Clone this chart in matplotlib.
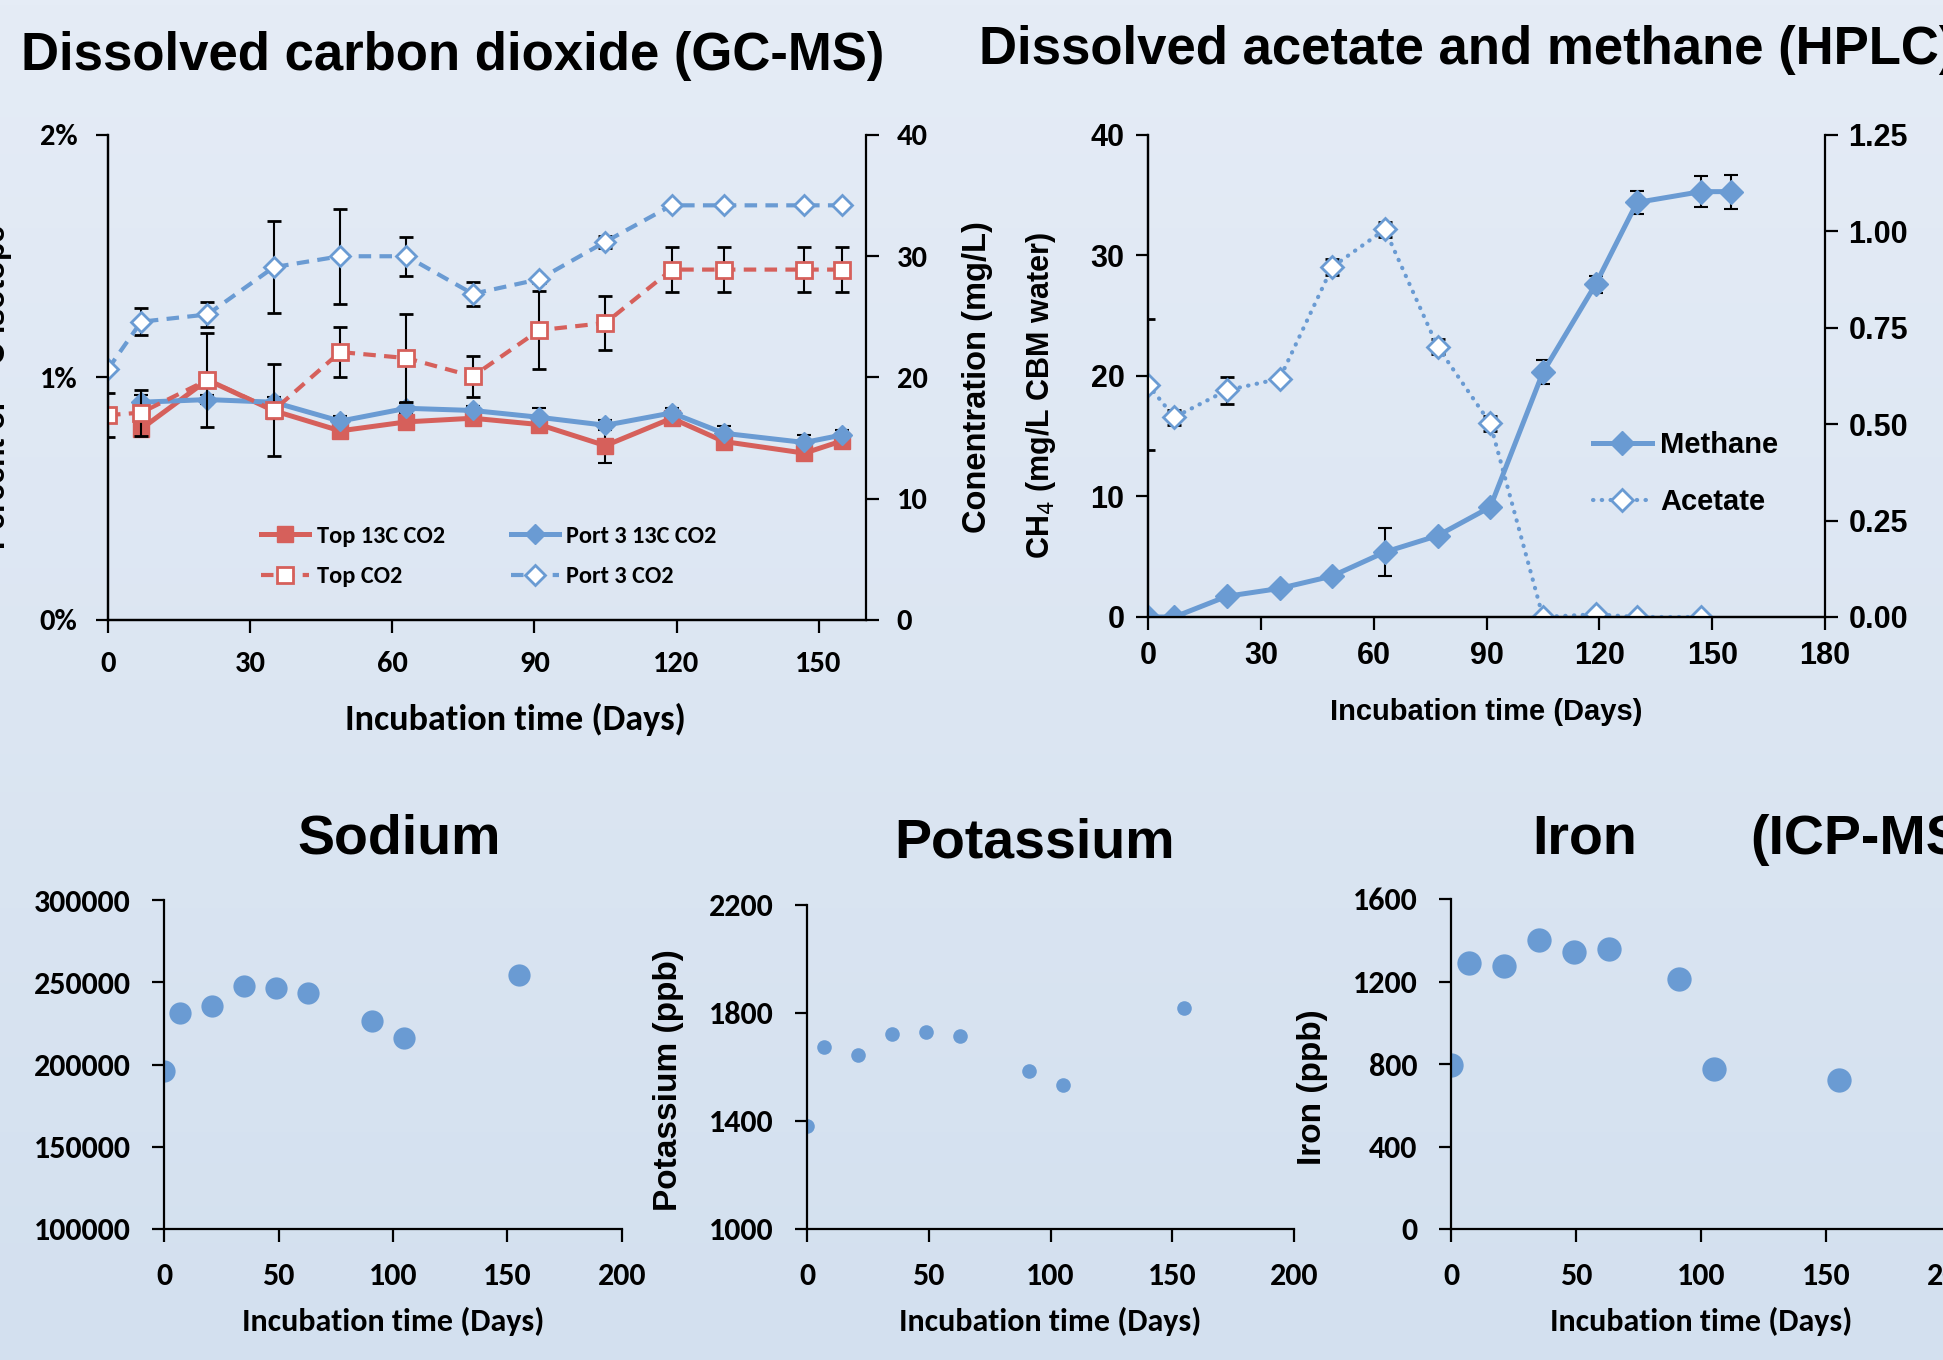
import numpy as np
import matplotlib
matplotlib.use('Agg')
import matplotlib.pyplot as plt
from matplotlib import font_manager
from matplotlib.colors import LinearSegmentedColormap

# pick fonts that exist in the sandbox
names = {f.name for f in font_manager.fontManager.ttflist}
def pick(*cands):
    for c in cands:
        if c in names:
            return c
    return 'DejaVu Sans'
ARIAL = pick('Liberation Sans', 'Arial')
NARROW = pick('Liberation Sans Narrow', 'Liberation Sans')
CALIBRI = pick('Carlito', 'Lato', 'Open Sans')

# ---- data: dissolved CO2 (GC-MS) ----
days = [0, 7, 21, 35, 49, 63, 77, 91, 105, 119, 130, 147, 155]
days_13c = days[1:]
top_13c = [0.788, 0.99, 0.863, 0.78, 0.817, 0.832, 0.806, 0.719, 0.832, 0.736, 0.688, 0.739]
top_13c_err = [0.03, 0.02, 0.02, 0.02, 0.02, 0.02, 0.02, 0.07, 0.02, 0.03, 0.02, 0.02]
port3_13c = [0.898, 0.909, 0.898, 0.82, 0.873, 0.864, 0.836, 0.803, 0.854, 0.77, 0.732, 0.763]
port3_13c_err = [0.03, 0.02, 0.02, 0.02, 0.02, 0.02, 0.037, 0.02, 0.02, 0.03, 0.03, 0.02]
top_co2 = [16.9, 17.1, 19.8, 17.3, 22.1, 21.6, 20.1, 23.9, 24.5, 28.9, 28.9, 28.9, 28.9]
top_co2_err = [1.8, 1.9, 3.9, 3.8, 2.1, 3.6, 1.7, 3.2, 2.2, 1.85, 1.85, 1.85, 1.85]
port3_co2 = [20.7, 24.6, 25.2, 29.1, 30.0, 30.0, 26.9, 28.1, 31.2, 34.2, 34.2, 34.2, 34.2]
port3_co2_err = [0, 1.1, 1.05, 3.8, 3.9, 1.6, 1.0, 0.3, 0.5, 0, 0, 0, 0]

# ---- data: acetate and methane (HPLC) ----
methane = [0, 0, 1.72, 2.37, 3.4, 5.39, 6.75, 9.12, 20.3, 27.6, 34.4, 35.3, 35.3]
methane_err = [0, 0, 0, 0, 0.35, 2.0, 0, 0, 1.0, 0.7, 0.95, 1.3, 1.4]
acetate_days = days[:12]
acetate = [0.602, 0.518, 0.588, 0.618, 0.908, 1.005, 0.701, 0.502, 0, 0.007, 0, 0]
acetate_err = [0.17, 0.02, 0.035, 0, 0.02, 0.02, 0.02, 0.02, 0, 0, 0, 0]

# ---- data: ICP-MS ----
icp_days = [0, 7, 21, 35, 49, 63, 91, 105, 155]
sodium = [196200, 231500, 235300, 247900, 246500, 243200, 226500, 216200, 254600]
potassium = [1380, 1675, 1643, 1724, 1731, 1716, 1586, 1534, 1818]
iron = [796, 1291, 1273, 1399, 1345, 1357, 1210, 777, 724]

RED = '#D6605B'
BLUE = '#6A9BD3'
W, H = 1943, 1360

fig = plt.figure(figsize=(W / 100, H / 100), dpi=100)

# background gradient
bg = fig.add_axes([0, 0, 1, 1], zorder=-10)
grad = np.linspace(0, 1, 256).reshape(-1, 1)
cm = LinearSegmentedColormap.from_list('bg', ['#E5ECF6', '#D3E0EF'])
bg.imshow(grad, aspect='auto', cmap=cm, extent=[0, 1, 0, 1], origin='upper')
bg.axis('off')

def box(l, t, r, b):
    return [l / W, 1 - b / H, (r - l) / W, (b - t) / H]

def style(ax, font, size, right=False, pad=8):
    ax.patch.set_alpha(0)
    ax.spines['top'].set_visible(False)
    if not right:
        ax.spines['right'].set_visible(False)
    for s in ax.spines.values():
        s.set_linewidth(1.6)
    ax.tick_params(direction='out', length=9, width=1.6, pad=pad)
    for lab in ax.get_xticklabels() + ax.get_yticklabels():
        lab.set_fontfamily(font)
        lab.set_fontweight('bold')
        lab.set_fontsize(size)

ebkw = dict(ecolor='black', elinewidth=1.5, capsize=5, capthick=1.5)

# ===== panel 1 =====
ax1 = fig.add_axes(box(108, 135, 866, 620))
ax1.set_xlim(0, 160)
ax1.set_ylim(0, 2)
ax1.set_xticks([0, 30, 60, 90, 120, 150])
ax1.set_yticks([0, 1, 2])
ax1.set_yticklabels(['0%', '1%', '2%'])
e1 = ax1.errorbar(days_13c, top_13c, yerr=top_13c_err, color=RED, lw=3.6, marker='s',
                  ms=11, mfc=RED, mec=RED, **ebkw)
e2 = ax1.errorbar(days_13c, port3_13c, yerr=port3_13c_err, color=BLUE, lw=3.6, marker='D',
                  ms=10, mfc=BLUE, mec=BLUE, **ebkw)
style(ax1, CALIBRI, 22, pad=13)
ax1b = ax1.twinx()
ax1b.set_ylim(0, 40)
ax1b.set_yticks([0, 10, 20, 30, 40])
e3 = ax1b.errorbar(days, top_co2, yerr=top_co2_err, color=RED, lw=3, ls=(0, (3, 2)), marker='s',
                   ms=12, mfc='white', mec=RED, mew=2, **ebkw)
e4 = ax1b.errorbar(days, port3_co2, yerr=port3_co2_err, color=BLUE, lw=3, ls=(0, (3, 2)),
                   marker='D', ms=10, mfc='white', mec=BLUE, mew=2, **ebkw)
style(ax1b, CALIBRI, 22, right=True, pad=13)
ax1b.legend([e1[0], e3[0], e2[0], e4[0]], ['Top 13C CO2', 'Top CO2', 'Port 3 13C CO2', 'Port 3 CO2'],
            ncol=2, frameon=False, loc='upper left', bbox_to_anchor=(239 / W, 1 - 504 / H),
            bbox_transform=fig.transFigure, handlelength=2.0, handletextpad=0.3,
            columnspacing=2.7, labelspacing=0.8,
            prop=dict(family=CALIBRI, weight='bold', size=17.5))
ax1.set_xlabel('Incubation time (Days)', family=CALIBRI, weight='bold', size=26, va='center')
ax1.xaxis.set_label_coords(0.537, -0.206)
ax1b.set_ylabel('Conentration (mg/L)', family=ARIAL, weight='bold', size=23.5, labelpad=25)
fig.text(-4 / W, 1 - 387 / H, 'Percent of $^{13}$C isotope', rotation=90, ha='center',
         va='center', family=ARIAL, weight='bold', size=22)

# ===== panel 2 =====
ax2 = fig.add_axes(box(1148, 135, 1825, 617))
ax2.set_xlim(0, 180)
ax2.set_ylim(0, 40)
ax2.set_xticks(range(0, 181, 30))
ax2.set_yticks([0, 10, 20, 30, 40])
e5 = ax2.errorbar(days, methane, yerr=methane_err, color=BLUE, lw=3.6, marker='D', ms=12,
                  mfc=BLUE, mec=BLUE, zorder=3, **ebkw)
style(ax2, NARROW, 22)
ax2b = ax2.twinx()
ax2b.set_ylim(0, 1.25)
ax2b.set_yticks([0, 0.25, 0.5, 0.75, 1.0, 1.25])
ax2b.set_yticklabels(['0.00', '0.25', '0.50', '0.75', '1.00', '1.25'])
e6 = ax2b.errorbar(acetate_days, acetate, yerr=acetate_err, color=BLUE, lw=3, ls=(0, (0.1, 2)),
                   dash_capstyle='round', marker='D', ms=11, mfc='white', mec=BLUE, mew=2, **ebkw)
style(ax2b, NARROW, 22, right=True)
ax2b.legend([e5[0], e6[0]], ['Methane', 'Acetate'], frameon=False, loc='upper left',
            bbox_to_anchor=(1567 / W, 1 - 405 / H), bbox_transform=fig.transFigure,
            handlelength=2.0, handletextpad=0.3, labelspacing=1.0,
            prop=dict(family=NARROW, weight='bold', size=21))
ax2.set_xlabel('Incubation time (Days)', family=ARIAL, weight='bold', size=21, labelpad=20)
ax2.set_ylabel('CH$_4$ (mg/L CBM water)', family=ARIAL, weight='bold', size=22)
ax2.yaxis.set_label_coords(-0.133, 0.46)
ax2b.set_ylabel('Acetate (mM)', family=ARIAL, weight='bold', size=21, labelpad=40)

# ===== bottom ICP-MS panels =====
def icp_panel(rect, vals, ylim, yticks, ms, ylabel):
    ax = fig.add_axes(rect)
    ax.plot(icp_days, vals, 'o', color=BLUE, ms=ms, mec='none')
    ax.set_xlim(0, 200)
    ax.set_ylim(*ylim)
    ax.set_xticks([0, 50, 100, 150, 200])
    ax.set_yticks(yticks)
    style(ax, CALIBRI, 23, pad=15)
    ax.set_xlabel('Incubation time (Days)', family=CALIBRI, weight='bold', size=23, labelpad=12)
    ax.set_ylabel(ylabel, family=ARIAL, weight='bold', size=24, labelpad=18)
    return ax

ax_na = icp_panel(box(164, 900, 622, 1229), sodium, (100000, 300000),
                  range(100000, 300001, 50000), 16, 'Sodium (ppb)')
ax_k = icp_panel(box(807, 905, 1294, 1229), potassium, (1000, 2200),
                 [1000, 1400, 1800, 2200], 10.5, 'Potassium (ppb)')
ax_fe = icp_panel(box(1451, 899, 1951, 1229), iron, (0, 1600),
                  [0, 400, 800, 1200, 1600], 17.5, 'Iron (ppb)')
ax_na.yaxis.set_label_coords(-0.37, 0.47)
fig.canvas.draw()
for a, y in ((ax_k, 0.46), (ax_fe, 0.43)):
    x = a.yaxis.label.get_position()
    a.yaxis.set_label_coords(a.transAxes.inverted().transform(x)[0], y)

# titles
tkw = dict(family=ARIAL, weight='bold', va='center')
fig.text(21 / W, 1 - 56 / H, 'Dissolved carbon dioxide (GC-MS)', ha='left', size=38, **tkw)
fig.text(979 / W, 1 - 50 / H, 'Dissolved acetate and methane (HPLC)', ha='left', size=38, **tkw)
fig.text(399 / W, 1 - 840 / H, 'Sodium', ha='center', size=40, **tkw)
fig.text(1035 / W, 1 - 844 / H, 'Potassium', ha='center', size=40, **tkw)
fig.text(1585 / W, 1 - 840 / H, 'Iron', ha='center', size=40, **tkw)
fig.text(1750 / W, 1 - 840 / H, '(ICP-MS)', ha='left', size=40, **tkw)

fig.savefig('out.png', dpi=100)
